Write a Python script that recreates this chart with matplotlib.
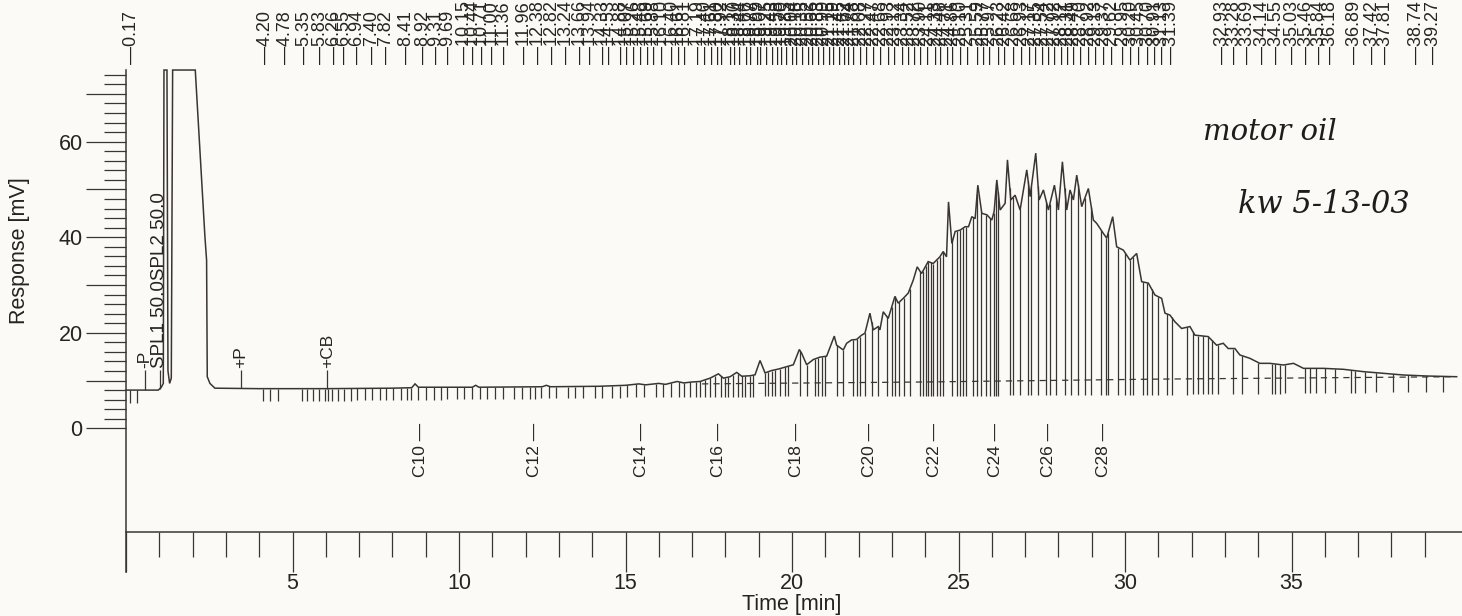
import numpy as np
import matplotlib
matplotlib.use("Agg")
import matplotlib.pyplot as plt
from matplotlib.ticker import FixedLocator, FuncFormatter

plt.rcParams['font.family'] = ['Liberation Sans', 'DejaVu Sans']

# Detector trace (time in min, response in mV); the solvent peak is clipped at the recorder limit
trace_time = [0.00, 0.97, 1.06, 1.12, 1.14, 1.23, 1.26, 1.31, 1.36, 1.40, 2.08, 2.37, 2.42, 2.44,
              2.52, 2.67, 4.00, 6.00, 8.00, 8.58, 8.68, 8.78, 10.40, 10.50, 10.60, 12.50, 12.62,
              12.75, 14.20, 15.00, 15.40, 15.60, 16.00, 16.20, 16.55, 16.75, 17.00, 17.24, 17.54,
              17.79, 17.94, 18.14, 18.34, 18.49, 18.74, 18.89, 19.04, 19.19, 19.39, 19.59, 19.84,
              20.04, 20.22, 20.29, 20.44, 20.64, 20.84, 21.04, 21.27, 21.34, 21.54, 21.64, 21.79,
              21.94, 22.09, 22.19, 22.34, 22.44, 22.59, 22.64, 22.74, 22.89, 23.09, 23.19, 23.34,
              23.49, 23.64, 23.76, 23.89, 24.09, 24.24, 24.34, 24.44, 24.54, 24.64, 24.70, 24.80,
              24.90, 25.05, 25.20, 25.30, 25.40, 25.50, 25.58, 25.70, 25.85, 26.00, 26.07, 26.15,
              26.25, 26.40, 26.47, 26.57, 26.70, 26.85, 27.05, 27.15, 27.32, 27.42, 27.55, 27.70,
              27.88, 28.00, 28.12, 28.25, 28.35, 28.45, 28.55, 28.70, 28.90, 29.05, 29.15, 29.35,
              29.45, 29.63, 29.75, 29.95, 30.15, 30.35, 30.50, 30.70, 30.90, 31.10, 31.20, 31.35,
              31.50, 31.70, 31.95, 32.10, 32.50, 32.75, 32.95, 33.10, 33.30, 33.45, 33.75, 34.05,
              34.35, 34.76, 35.06, 35.36, 35.96, 36.56, 37.16, 37.76, 38.36, 39.06, 39.96]
trace_mv = [8.0, 8.0, 8.6, 9.4, 75.0, 75.0, 12.0, 9.4, 10.5, 75.0, 75.0, 40.1, 35.2, 10.8,
            9.4, 8.4, 8.3, 8.3, 8.4, 8.5, 9.3, 8.6, 8.6, 9.0, 8.6, 8.7, 9.0,
            8.7, 8.8, 9.0, 9.3, 9.1, 9.4, 9.2, 9.8, 9.5, 9.7, 9.8, 10.5,
            11.4, 10.5, 10.8, 11.7, 10.9, 11.0, 11.2, 14.2, 11.6, 12.1, 12.4, 12.9,
            13.3, 16.5, 15.7, 13.3, 14.4, 14.9, 15.1, 19.3, 17.4, 16.4, 17.8, 18.5,
            18.6, 19.5, 19.9, 24.1, 20.6, 21.3, 20.6, 24.4, 23.0, 27.6, 26.2, 27.2,
            28.3, 31.0, 33.8, 32.4, 34.9, 34.5, 35.2, 35.9, 37.0, 35.9, 47.4, 38.7,
            41.2, 41.5, 42.2, 42.2, 44.3, 43.9, 50.9, 45.0, 44.7, 43.6, 45.4, 52.0,
            45.7, 47.1, 56.2, 47.8, 48.8, 45.7, 54.1, 48.5, 57.6, 47.8, 49.9, 45.7,
            50.9, 45.7, 55.8, 45.7, 49.9, 47.8, 53.0, 46.4, 50.2, 43.6, 42.9, 40.8,
            39.8, 44.3, 38.0, 37.3, 35.2, 36.6, 30.7, 30.4, 27.9, 27.2, 24.1, 23.7,
            22.3, 20.9, 21.3, 19.5, 19.2, 17.4, 17.8, 16.7, 16.7, 15.35, 14.65, 13.6,
            13.6, 13.25, 13.6, 12.55, 12.55, 12.35, 11.86, 11.5, 11.16, 10.95, 10.8]

# Integration events (peak start/stop marks and drop lines), in min
event_time = [0.12, 0.33, 4.12, 4.32, 4.57, 5.28, 5.45, 5.62, 5.79, 5.97, 6.08, 6.20, 6.37, 6.54,
              6.77, 6.94, 7.17, 7.40, 7.63, 7.80, 8.03, 8.26, 8.44, 8.55, 8.78, 9.01, 9.24, 9.47,
              9.64, 9.93, 10.16, 10.39, 10.62, 10.85, 11.08, 11.31, 11.66, 11.89, 12.12, 12.29,
              12.46, 12.69, 12.92, 13.26, 13.49, 13.72, 14.07, 14.30, 14.59, 14.82, 15.05, 15.33,
              15.56, 15.91, 16.14, 16.37, 16.60, 16.77, 16.94, 17.11, 17.24, 17.39, 17.54, 17.69,
              17.86, 17.99, 18.09, 18.24, 18.39, 18.49, 18.59, 18.74, 18.84, 19.19, 19.29, 19.39,
              19.49, 19.64, 19.79, 19.89, 20.24, 20.44, 20.69, 20.79, 20.89, 20.99, 21.34, 21.54,
              21.82, 21.94, 22.04, 22.19, 22.39, 22.59, 22.84, 22.99, 23.09, 23.22, 23.36, 23.54,
              23.84, 23.94, 24.02, 24.09, 24.16, 24.24, 24.34, 24.44, 24.54, 24.79, 24.94, 25.04,
              25.14, 25.22, 25.44, 25.56, 25.69, 25.84, 25.94, 26.06, 26.14, 26.19, 26.54, 26.64,
              26.84, 27.09, 27.19, 27.39, 27.64, 27.74, 27.94, 28.19, 28.39, 28.59, 28.79, 28.99,
              29.29, 29.44, 29.49, 29.80, 30.00, 30.15, 30.25, 30.55, 30.65, 30.80, 31.00, 31.25,
              31.40, 31.85, 32.05, 32.20, 32.35, 32.50, 32.60, 32.80, 33.25, 33.50, 34.00, 34.40,
              34.50, 34.65, 34.80, 35.40, 35.55, 35.75, 36.00, 36.30, 36.80, 36.90, 37.20, 37.55,
              38.05, 38.50, 39.05, 39.55]

# Lower end of the event marks
event_floor_time = [0.0, 17.0, 31.0, 40.0]
event_floor_mv = [5.3, 6.6, 7.0, 7.7]

# Retention times printed along the top
rt_labels = [0.17, 4.20, 4.78, 5.35, 5.83, 6.26, 6.55, 6.94, 7.40, 7.82, 8.41, 8.92, 9.31, 9.69,
             10.15, 10.44, 10.71, 11.00, 11.36, 11.96, 12.38, 12.82, 13.24, 13.66, 13.94, 14.33,
             14.53, 14.88, 15.07, 15.26, 15.48, 15.69, 15.88, 16.10, 16.40, 16.61, 16.81, 17.19,
             17.40, 17.61, 17.80, 17.92, 18.17, 18.30, 18.44, 18.66, 18.77, 18.99, 19.07, 19.25,
             19.43, 19.58, 19.70, 19.85, 20.04, 20.18, 20.35, 20.52, 20.66, 20.83, 20.99, 21.15,
             21.29, 21.45, 21.62, 21.74, 21.88, 22.08, 22.27, 22.47, 22.68, 22.93, 23.12, 23.34,
             23.52, 23.72, 23.90, 24.11, 24.33, 24.48, 24.71, 24.86, 25.10, 25.31, 25.59, 25.77,
             25.97, 26.23, 26.42, 26.68, 26.93, 27.17, 27.35, 27.54, 27.72, 27.92, 28.12, 28.31,
             28.49, 28.70, 28.92, 29.13, 29.37, 29.62, 29.95, 30.20, 30.45, 30.70, 30.91, 31.13,
             31.39, 32.93, 33.28, 33.69, 34.14, 34.55, 35.03, 35.46, 35.84, 36.18, 36.89, 37.42,
             37.81, 38.74, 39.27]

# n-alkane markers
alkane_names = ["C10", "C12", "C14", "C16", "C18", "C20", "C22", "C24", "C26", "C28"]
alkane_time = [8.83, 12.28, 15.47, 17.79, 20.14, 22.32, 24.29, 26.10, 27.70, 29.35]

# Method event markers
event_names = ["-P", "SPL1 50.0SPL2 50.0", "+P", "+CB"]
event_marker_time = [0.56, 1.02, 3.44, 6.04]

# Drawn integration baseline
baseline_time = [17.3, 24.0, 31.0, 39.9]
baseline_mv = [9.3, 9.7, 10.3, 10.8]

y_major = [0, 10, 20, 30, 40, 50, 60, 70]
y_minor = [v for v in range(2, 75, 2) if v % 10]
x_major = [0, 5, 10, 15, 20, 25, 30, 35]
x_minor = [v for v in range(1, 40) if v % 5]

paper = '#fbfaf6'
ink = '#3a3532'
text_ink = '#262322'

fig = plt.figure(figsize=(14.62, 6.16), dpi=100, facecolor=paper)
ax = fig.add_axes([0, 0, 1, 1])
ax.set_facecolor(paper)
ax.set_xlim(-3.784, 40.12)
ax.set_ylim(-39.29, 89.66)

for side in ('top', 'right'):
    ax.spines[side].set_visible(False)
ax.spines['left'].set_position(('data', 0))
ax.spines['left'].set_bounds(-30.1, 75.0)
ax.spines['bottom'].set_position(('data', -21.7))
ax.spines['bottom'].set_bounds(0, 40.12)
for side in ('left', 'bottom'):
    ax.spines[side].set_color(ink)
    ax.spines[side].set_linewidth(1.1)

ax.yaxis.set_major_locator(FixedLocator(y_major))
ax.yaxis.set_minor_locator(FixedLocator(y_minor))
ax.yaxis.set_major_formatter(FuncFormatter(lambda v, p: f"{v:.0f}" if v % 20 == 0 else ""))
ax.xaxis.set_major_locator(FixedLocator(x_major))
ax.xaxis.set_minor_locator(FixedLocator(x_minor))
ax.xaxis.set_major_formatter(FuncFormatter(lambda v, p: f"{v:.0f}" if v > 0 else ""))

ax.tick_params(axis='y', which='major', direction='out', length=28.8, width=0.9,
               pad=2.4, labelsize=15.5, color=ink, labelcolor=text_ink)
ax.tick_params(axis='y', which='minor', direction='out', length=15.6, width=0.9, color=ink)
ax.tick_params(axis='x', which='major', direction='out', length=28.8, width=0.9,
               pad=1.0, labelsize=15.5, color=ink, labelcolor=text_ink)
ax.tick_params(axis='x', which='minor', direction='out', length=18.0, width=0.9, color=ink)

ax.text(-3.21, 37.1, "Response [mV]", rotation=90, ha='center', va='center',
        fontsize=15.5, color=text_ink)
ax.text(20.0, -36.9, "Time [min]", ha='center', va='center', fontsize=15.5, color=text_ink)

# trace
ax.plot(trace_time, trace_mv, color=ink, lw=1.1, solid_joinstyle='miter')

# integration marks from the trace down to the floor
ev = np.asarray(event_time)
ev_top = np.interp(ev, trace_time, trace_mv)
ev_bot = np.interp(ev, event_floor_time, event_floor_mv)
ax.vlines(ev, ev_bot, ev_top, color=ink, lw=0.9)

# integration baseline
ax.plot(baseline_time, baseline_mv, color=ink, lw=0.9, ls=(0, (5, 4)))

# retention times
for t in rt_labels:
    ax.text(t, 76.3, "\u2014" + f"{t:.2f}", rotation=90, ha='center', va='bottom',
            fontsize=13, color=text_ink)

# alkane markers
for name, t in zip(alkane_names, alkane_time):
    ax.text(t, 1.1, name + " \u2014", rotation=90, ha='center', va='top',
            fontsize=12.5, color=text_ink)

# method events
for name, t in zip(event_names, event_marker_time):
    y0 = float(np.interp(t, trace_time[:4], trace_mv[:4])) if t < 1.1 else float(np.interp(t, trace_time, trace_mv))
    ax.vlines(t, y0, 12.2, color=ink, lw=0.9)
    ax.text(t, 12.6, name, rotation=90, ha='center', va='bottom',
            fontsize=13.5 if len(name) > 4 else 12.5, color=text_ink)

# handwritten notes
ax.text(32.34, 60.3, "motor oil", fontsize=21, style='italic', family='DejaVu Serif',
        color='#1e1c1c', ha='left', va='baseline')
ax.text(33.39, 45.0, "kw 5-13-03", fontsize=22, style='italic', family='DejaVu Serif',
        color='#1e1c1c', ha='left', va='baseline')

fig.savefig("out.png", dpi=100, facecolor=paper)
